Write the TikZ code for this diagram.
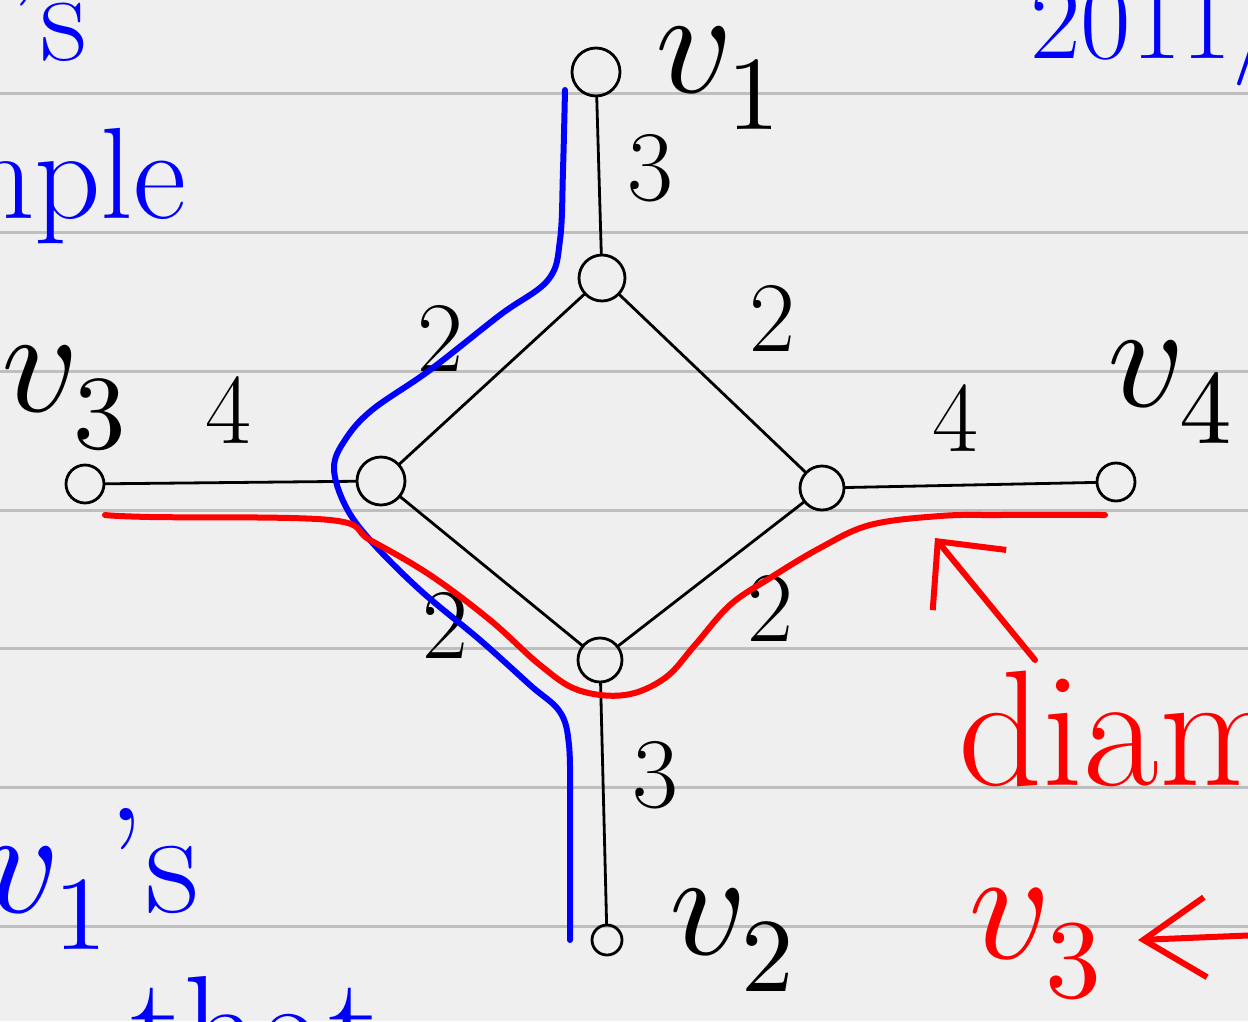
\documentclass[tikz,border=0pt]{standalone}
\usepackage{fontspec}
\usepackage{unicode-math}
\usetikzlibrary{arrows.meta}
\definecolor{PaperGray}{HTML}{EFEFEF}
\definecolor{RuleGray}{HTML}{BEBEBE}
\definecolor{InkBlue}{HTML}{0000FF}
\definecolor{InkRed}{HTML}{FF0000}
\tikzset{
  vtx/.style={circle,draw=black,line width=2.8pt,inner sep=0pt,minimum size=#1},
  vtx/.default=46pt,
  edge/.style={draw=black,line width=2.8pt,line cap=round},
  wt/.style={font=\fontsize{100}{100}\selectfont,inner sep=0pt},
  vname/.style={font=\fontsize{150}{150}\selectfont,inner sep=0pt},
  bluepath/.style={draw=InkBlue,line width=6pt,line cap=round,line join=round},
  redpath/.style={draw=InkRed,line width=6pt,line cap=round,line join=round},
  redarrow/.style={redpath,-{Straight Barb[length=#1]}},
  scrap/.style={inner sep=0pt,anchor=base west}
}
\begin{document}
\begin{tikzpicture}[x=1pt,y=-1pt]
  \fill[PaperGray] (0,0) rectangle (1248,1021);
  \useasboundingbox (0,0) rectangle (1248,1021);
  \clip (0,0) rectangle (1248,1021);
  \foreach \y in {93,232,371,510,648,787,926}
    \draw[RuleGray,line width=3pt] (0,\y) -- (1248,\y);

  % vertices
  \node[vtx=48pt] (vone) at (596,72) {};
  \node[vtx] (up) at (602,278) {};
  \node[vtx=48pt] (lt) at (381,481) {};
  \node[vtx=44pt] (rt) at (822,488) {};
  \node[vtx=44pt] (dn) at (600,660) {};
  \node[vtx=38pt] (vthree) at (85,484) {};
  \node[vtx=38pt] (vfour) at (1116,482) {};
  \node[vtx=30pt] (vtwo) at (607,940) {};

  % edges
  \draw[edge] (vone) -- (up);
  \draw[edge] (up) -- (lt);
  \draw[edge] (up) -- (rt);
  \draw[edge] (lt) -- (dn);
  \draw[edge] (rt) -- (dn);
  \draw[edge] (vthree) -- (lt);
  \draw[edge] (rt) -- (vfour);
  \draw[edge] (dn) -- (vtwo);

  % weights
  \node[wt] (w1) at (650,168) {3};
  \node[wt] (w2) at (440,338) {2};
  \node[wt] (w3) at (772,318) {2};
  \node[wt] (w4) at (228,410) {4};
  \node[wt] (w5) at (955,418) {4};
  \node[wt] (w6) at (445,625) {2};
  \node[wt] (w7) at (770,608) {2};
  \node[wt] (w8) at (655,775) {3};

  % vertex names
  \node[vname] (nvone) at (718,78) {$v_1$};
  \node[vname] (nvthree) at (64,398) {$v_3$};
  \node[vname] (nvfour) at (1170,392) {$v_4$};
  \node[vname] (nvtwo) at (732,940) {$v_2$};

  % v1's path (blue)
  \draw[bluepath] plot[smooth,tension=0.6] coordinates {(565,90) (563,170) (560,240)
    (548,280) (500,315) (430,370) (372,410) (345,440) (334,468) (345,505) (370,540)
    (420,590) (480,640) (530,685) (560,712) (569,745) (570,800)} -- (570,940);

  % diameter (red)
  \draw[redpath] plot[smooth,tension=0.6] coordinates {(105,515) (150,517) (330,520)
    (370,540) (430,575) (490,620) (540,665) (578,690) (625,695) (665,678) (695,645)
    (730,605) (770,578) (820,548) (870,525) (940,516) (1000,515) (1105,515)};

  % notes
  \node[scrap,text=InkRed,font=\fontsize{165}{165}\selectfont] (diam) at (958,785) {diam};
  \coordinate (diamtail) at (1035,660);
  \coordinate (diamtip) at (935,538);
  \draw[redarrow={50pt,width=95pt}] (diamtail) -- (diamtip);
  \node[scrap,text=InkRed,font=\fontsize{160}{160}\selectfont] (rvthree) at (968,958) {$v_3$};
  \coordinate (edgeR) at (1260,935);
  \coordinate (vthreetip) at (1138,940);
  \draw[redarrow={62pt,width=80pt}] (edgeR) -- (vthreetip);

  % cut-off scraps (blue)
  \node[scrap,text=InkBlue,font=\fontsize{130}{130}\selectfont] (scrapA) at (8,60) {’s};
  \node[scrap,text=InkBlue,font=\fontsize{130}{130}\selectfont] (scrapB) at (-66,218) {mple};
  \node[scrap,text=InkBlue,font=\fontsize{110}{110}\selectfont] (scrapC) at (1030,58) {2011/};
  \node[scrap,text=InkBlue,font=\fontsize{150}{150}\selectfont] (scrapD) at (-18,912) {$v_1$’s};
  \node[scrap,text=InkBlue,font=\fontsize{150}{150}\selectfont] (scrapE) at (130,1080) {that};
\end{tikzpicture}
\end{document}
